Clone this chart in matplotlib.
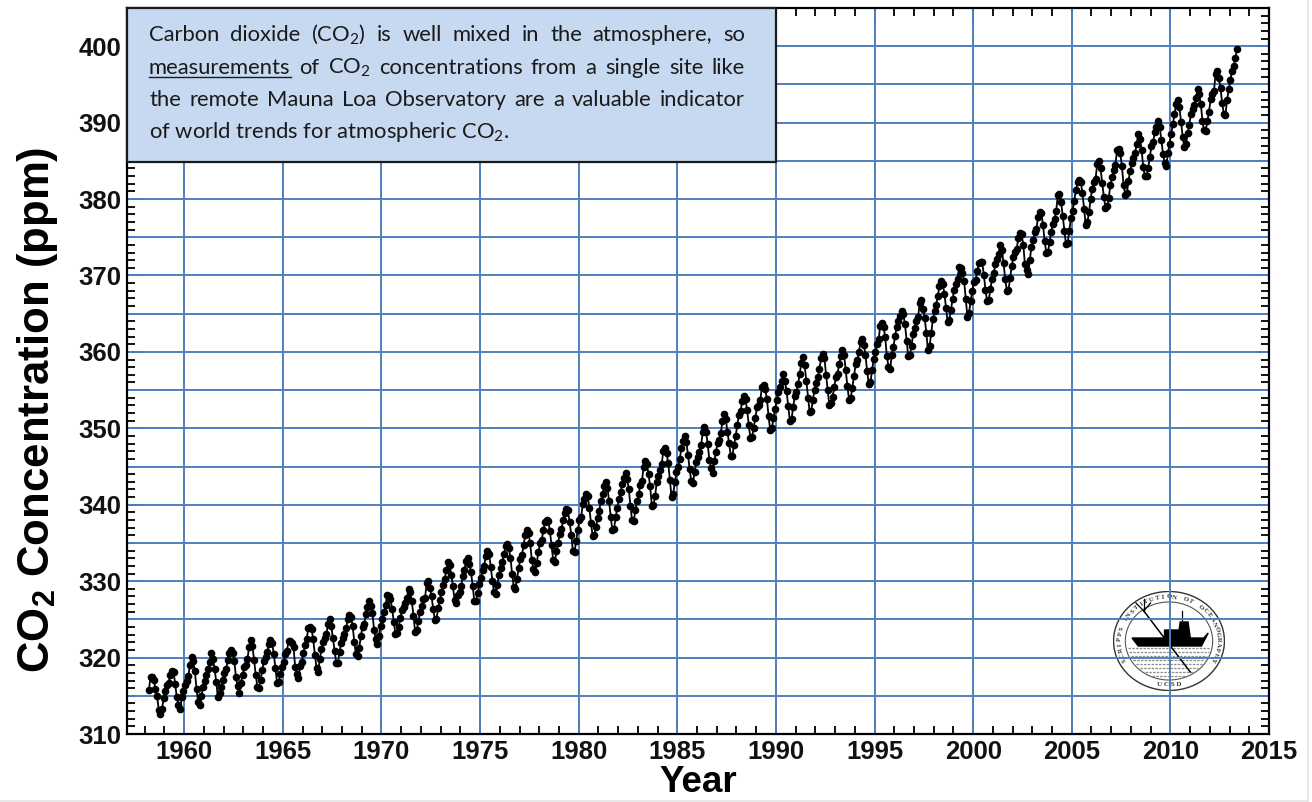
import numpy as np
import matplotlib
matplotlib.use("Agg")
import matplotlib.pyplot as plt
from matplotlib.patches import Rectangle, Ellipse, Polygon
from matplotlib.lines import Line2D
from matplotlib.ticker import MultipleLocator

# Monthly CO2 at Mauna Loa, March 1958 .. May 2013
first_year = 1958
first_month = 3
co2_ppm = [
    315.71, 317.45, 317.50, 317.10, 315.86, 314.93, 313.20, 312.66, 313.33, 314.67,
    315.62, 316.38, 316.71, 317.72, 318.29, 318.15, 316.54, 314.80, 313.84, 313.26, 314.80, 315.58,
    316.43, 316.97, 317.58, 319.02, 320.03, 319.59, 318.18, 315.91, 314.16, 313.83, 315.00, 316.19,
    316.93, 317.70, 318.54, 319.48, 320.58, 319.77, 318.57, 316.79, 314.80, 315.38, 316.10, 317.01,
    317.94, 318.56, 319.68, 320.63, 321.01, 320.55, 319.58, 317.40, 316.26, 315.42, 316.69, 317.69,
    318.74, 319.08, 319.86, 321.39, 322.25, 321.47, 319.74, 317.77, 316.21, 315.99, 317.12, 318.31,
    319.57, 320.07, 320.73, 321.77, 322.25, 321.89, 320.44, 318.70, 316.70, 316.79, 317.79, 318.71,
    319.44, 320.44, 320.89, 322.13, 322.16, 321.87, 321.39, 318.81, 317.81, 317.30, 318.87, 319.42,
    320.62, 321.59, 322.39, 323.87, 324.01, 323.75, 322.39, 320.37, 318.64, 318.10, 319.79, 321.08,
    322.07, 322.50, 323.04, 324.42, 325.00, 324.09, 322.55, 320.92, 319.31, 319.31, 320.72, 321.96,
    322.57, 323.15, 323.89, 325.02, 325.57, 325.36, 324.14, 322.03, 320.41, 320.25, 321.31, 322.84,
    324.00, 324.42, 325.64, 326.66, 327.34, 326.76, 325.88, 323.67, 322.38, 321.78, 322.85, 324.11,
    325.03, 325.99, 326.87, 328.13, 328.07, 327.66, 326.35, 324.69, 323.10, 323.16, 323.98, 325.13,
    326.17, 326.68, 327.18, 327.78, 328.92, 328.57, 327.34, 325.46, 323.36, 323.57, 324.80, 326.01,
    326.77, 327.63, 327.75, 329.72, 330.07, 329.09, 328.05, 326.32, 324.93, 325.06, 326.50, 327.55,
    328.54, 329.56, 330.30, 331.50, 332.48, 332.07, 330.87, 329.31, 327.51, 327.18, 328.16, 328.64,
    329.35, 330.71, 331.48, 332.65, 333.09, 332.25, 331.18, 329.40, 327.43, 327.37, 328.46, 329.57,
    330.40, 331.40, 332.04, 333.31, 333.96, 333.59, 331.91, 330.06, 328.56, 328.34, 329.49, 330.76,
    331.75, 332.56, 333.50, 334.58, 334.87, 334.34, 333.05, 330.94, 329.30, 328.94, 330.31, 331.68,
    332.93, 333.42, 334.70, 336.07, 336.74, 336.27, 334.93, 332.75, 331.58, 331.16, 332.40, 333.85,
    334.97, 335.39, 336.64, 337.76, 338.01, 337.89, 336.54, 334.68, 332.76, 332.54, 333.92, 334.95,
    336.23, 336.76, 337.96, 338.89, 339.47, 339.29, 337.73, 336.09, 333.91, 333.86, 335.29, 336.73,
    338.01, 338.36, 340.08, 340.77, 341.46, 341.17, 339.56, 337.60, 335.88, 336.01, 337.10, 338.21,
    339.23, 340.47, 341.38, 342.51, 342.91, 342.25, 340.49, 338.43, 336.69, 336.85, 338.36, 339.61,
    340.75, 341.61, 342.70, 343.56, 344.13, 343.35, 342.06, 339.82, 337.97, 337.86, 339.26, 340.49,
    341.38, 342.52, 343.10, 344.94, 345.75, 345.32, 343.99, 342.39, 339.86, 339.99, 341.16, 342.99,
    343.70, 344.51, 345.28, 347.08, 347.43, 346.79, 345.40, 343.28, 341.07, 341.35, 342.98, 344.22,
    344.97, 345.99, 347.42, 348.35, 348.93, 348.25, 346.56, 344.67, 343.09, 342.80, 344.24, 345.56,
    346.30, 346.95, 347.85, 349.55, 350.21, 349.54, 347.94, 345.91, 344.86, 344.17, 345.66, 346.90,
    348.02, 348.47, 349.42, 350.99, 351.84, 351.25, 349.52, 348.10, 346.44, 346.36, 347.81, 348.96,
    350.43, 351.72, 352.22, 353.59, 354.22, 353.79, 352.39, 350.44, 348.72, 348.88, 350.07, 351.34,
    352.76, 353.07, 353.68, 355.42, 355.67, 355.13, 353.90, 351.67, 349.80, 349.99, 351.30, 352.53,
    353.66, 354.70, 355.39, 356.20, 357.16, 356.22, 354.82, 352.91, 350.96, 351.18, 352.83, 354.21,
    354.72, 355.75, 357.16, 358.60, 359.34, 358.24, 356.17, 354.03, 352.16, 352.21, 353.75, 354.99,
    355.98, 356.72, 357.81, 359.15, 359.66, 359.25, 357.02, 355.00, 353.01, 353.31, 354.16, 355.40,
    356.70, 357.16, 358.38, 359.46, 360.28, 359.60, 357.57, 355.52, 353.69, 353.99, 355.34, 356.80,
    358.37, 358.91, 359.97, 361.26, 361.69, 360.94, 359.55, 357.49, 355.84, 356.00, 357.58, 359.04,
    359.97, 361.00, 361.64, 363.45, 363.79, 363.26, 361.90, 359.46, 358.06, 357.75, 359.56, 360.70,
    362.05, 363.25, 364.03, 364.72, 365.41, 364.97, 363.65, 361.49, 359.46, 359.60, 360.76, 362.33,
    363.18, 363.99, 364.56, 366.36, 366.80, 365.63, 364.47, 362.50, 360.19, 360.78, 362.43, 364.28,
    365.32, 366.15, 367.31, 368.61, 369.29, 368.87, 367.64, 365.77, 363.90, 364.23, 365.46, 366.97,
    368.15, 368.87, 369.59, 371.14, 371.00, 370.35, 369.27, 366.94, 364.63, 365.12, 366.67, 368.01,
    369.14, 369.46, 370.52, 371.66, 371.82, 371.70, 370.12, 368.12, 366.62, 366.73, 368.29, 369.53,
    370.28, 371.50, 372.12, 372.87, 374.02, 373.30, 371.62, 369.55, 367.96, 368.09, 369.68, 371.24,
    372.44, 373.08, 373.52, 374.85, 375.55, 375.40, 374.02, 371.48, 370.71, 370.25, 372.08, 373.78,
    374.68, 375.63, 376.11, 377.65, 378.35, 378.13, 376.62, 374.50, 372.99, 373.01, 374.35, 375.70,
    376.79, 377.37, 378.41, 380.52, 380.63, 379.57, 377.79, 375.86, 374.06, 374.24, 375.86, 377.48,
    378.47, 379.76, 381.14, 382.20, 382.47, 382.20, 380.78, 378.73, 376.66, 376.98, 378.29, 380.07,
    381.36, 382.19, 382.65, 384.65, 384.94, 384.01, 382.15, 380.33, 378.81, 379.06, 380.17, 381.85,
    382.88, 383.77, 384.42, 386.36, 386.53, 385.98, 384.35, 381.85, 380.58, 380.73, 382.34, 383.65,
    384.66, 385.35, 385.98, 387.16, 388.49, 387.88, 386.38, 384.15, 383.07, 382.98, 384.11, 385.54,
    386.92, 387.41, 388.77, 389.46, 390.18, 389.43, 387.74, 385.91, 384.77, 384.38, 385.99, 387.26,
    388.45, 389.82, 391.08, 392.46, 392.96, 392.03, 390.13, 388.15, 386.80, 387.18, 388.59, 389.68,
    391.19, 391.81, 392.37, 393.18, 394.40, 393.77, 392.46, 390.27, 389.00, 388.93, 390.23, 391.44,
    393.06, 393.80, 394.16, 396.38, 396.76, 395.86, 394.48, 392.58, 391.11, 391.05, 392.97, 394.34,
    395.55, 396.80, 397.43, 398.41, 399.60,
]

year_ticks = list(range(1960, 2016, 5))
ppm_ticks = list(range(310, 401, 10))
grid_years = list(range(1960, 2011, 5))
grid_ppm = list(range(315, 401, 5))

box_lines = [
    "Carbon dioxide (CO$_2$) is well mixed in the atmosphere, so",
    "measurements of CO$_2$ concentrations from a single site like",
    "the remote Mauna Loa Observatory are a valuable indicator",
    "of world trends for atmospheric CO$_2$.",
]

plt.rcParams["font.family"] = ["Liberation Sans", "DejaVu Sans"]
plt.rcParams["mathtext.fontset"] = "custom"
plt.rcParams["mathtext.rm"] = "Lato"
plt.rcParams["mathtext.it"] = "Lato:italic"
plt.rcParams["mathtext.bf"] = "Liberation Sans:bold"

W, H = 1312, 802
fig = plt.figure(figsize=(W / 100, H / 100), dpi=100)
renderer = fig.canvas.get_renderer()
grid_blue = "#4f7fbf"


def fx(x):
    return x / W


def fy(y):
    return 1 - y / H


# main axes (pixel box 127..1269 x 8..734)
ax = fig.add_axes([fx(127), fy(734), fx(1269 - 127), (734 - 8) / H], zorder=1)
ax.patch.set_visible(False)

t = first_year + (first_month - 1 + np.arange(len(co2_ppm)) + 0.5) / 12
ax.plot(t, co2_ppm, "-o", color="black", lw=1.3, ms=4.5, zorder=4)

for yr in grid_years:
    ax.axvline(yr, color=grid_blue, lw=1.4, zorder=2)
for p in grid_ppm:
    ax.axhline(p, color=grid_blue, lw=1.4, zorder=2)

ax.set_xlim(1957.1, 2015)
ax.set_ylim(310, 405)
ax.set_xticks(year_ticks)
ax.set_yticks(ppm_ticks)
ax.xaxis.set_minor_locator(MultipleLocator(1))
ax.yaxis.set_minor_locator(MultipleLocator(1))
ax.tick_params(which="both", direction="in", top=True, right=True, width=1.3,
               labelsize=18.5, labelcolor="#111111")
ax.tick_params(which="major", length=11)
ax.tick_params(which="minor", length=5.5)
ax.tick_params(axis="x", pad=4)
ax.tick_params(axis="y", pad=4)
for lab in ax.get_xticklabels() + ax.get_yticklabels():
    lab.set_fontweight("bold")
for s in ax.spines.values():
    s.set_linewidth(1.6)
    s.set_zorder(5)

fig.text(fx(698), fy(792), "Year", fontsize=26.5, fontweight="bold",
         ha="center", va="baseline")
fig.text(fx(38), fy(410), r"CO$_\mathbf{2}$ Concentration (ppm)", fontsize=31.5,
         fontweight="bold", rotation=90, ha="center", va="center")

# text box in the upper left corner
box = Rectangle((fx(127), fy(162)), fx(776 - 127), (162 - 8) / H,
                transform=fig.transFigure, facecolor="#c6d9f0",
                edgecolor="#1a1a1a", lw=1.6, zorder=6)
fig.add_artist(box)

txt_style = dict(family=["Lato", "DejaVu Sans"], color="#1a1a1a", va="baseline", zorder=7)
probe = fig.text(0, 0, box_lines[3], fontsize=14, **txt_style)
fs = 14 * 361 / probe.get_window_extent(renderer).width
probe.remove()

x_left, x_right = 149, 745
baselines = [41, 73.5, 106, 138]
for i, line in enumerate(box_lines):
    yb = baselines[i]
    if i == len(box_lines) - 1:
        fig.text(fx(x_left), fy(yb), line, fontsize=fs, **txt_style)
        continue
    words = line.split(" ")
    objs = [fig.text(0, 0, w, fontsize=fs, **txt_style) for w in words]
    widths = [o.get_window_extent(renderer).width for o in objs]
    gap = (x_right - x_left - sum(widths)) / (len(words) - 1)
    x = x_left
    for o, w in zip(objs, widths):
        o.set_position((fx(x), fy(yb)))
        x += w + gap
    if i == 1:
        ul = Line2D([fx(x_left), fx(x_left + widths[0])], [fy(yb + 3), fy(yb + 3)],
                    transform=fig.transFigure, color="#1a1a1a", lw=1.0, zorder=7)
        fig.add_artist(ul)

# Scripps seal (behind the grid)
lg = fig.add_axes([fx(1113), fy(691), fx(112), 100 / H], zorder=0)
lg.set_xlim(-1, 1)
lg.set_ylim(-1, 1)
lg.axis("off")
lg.add_patch(Ellipse((0, 0), 1.98, 1.98, fill=False, ec="#333333", lw=1.0))
lg.add_patch(Ellipse((0, 0), 1.56, 1.56, fill=False, ec="#555555", lw=0.8))
seal = "SCRIPPS INSTITUTION OF OCEANOGRAPHY"
for k, ch in enumerate(seal):
    a = np.deg2rad(205 - k * 230 / (len(seal) - 1))
    lg.text(0.88 * np.cos(a), 0.88 * np.sin(a), ch, fontsize=4.8, fontweight="bold",
            family="Liberation Serif", ha="center", va="center",
            rotation=np.rad2deg(a) - 90, color="#333333")
lg.text(0, -0.87, "U C S D", fontsize=5, fontweight="bold", family="Liberation Serif",
        ha="center", va="center", color="#333333")
for yw in np.arange(-0.14, -0.72, -0.08):
    hw = 0.78 * np.sqrt(1 - (yw / 0.78) ** 2) - 0.04
    lg.plot([-hw, hw], [yw, yw], color="#8c8c8c", lw=0.9, ls=(0, (2, 1)))
lg.add_patch(Polygon([(-0.66, 0.06), (0.62, 0.06), (0.7, 0.16), (0.58, -0.1),
                      (-0.55, -0.1)], closed=True, color="black"))
lg.add_patch(Polygon([(-0.08, 0.06), (-0.08, 0.22), (0.18, 0.22), (0.2, 0.38),
                      (0.34, 0.38), (0.38, 0.06)], closed=True, color="black"))
lg.plot([0.24, 0.24], [0.38, 0.6], color="black", lw=0.9)
lg.plot([-0.45, 0.38], [0.6, -0.62], color="black", lw=1.1)
for dx, dy in [(-0.14, 0.04), (0.0, 0.12), (0.12, 0.04)]:
    lg.plot([-0.45, -0.45 + dx], [0.6, 0.6 + dy + 0.12], color="black", lw=0.9)

# faint page edges of the scanned figure
fig.add_artist(Line2D([fx(1308), fx(1308)], [0, 1], transform=fig.transFigure,
                      color="#e4e4e4", lw=1.2))
fig.add_artist(Line2D([0, fx(1308)], [fy(800.5), fy(800.5)], transform=fig.transFigure,
                      color="#e4e4e4", lw=1.2))

fig.savefig("out.png", dpi=100)
